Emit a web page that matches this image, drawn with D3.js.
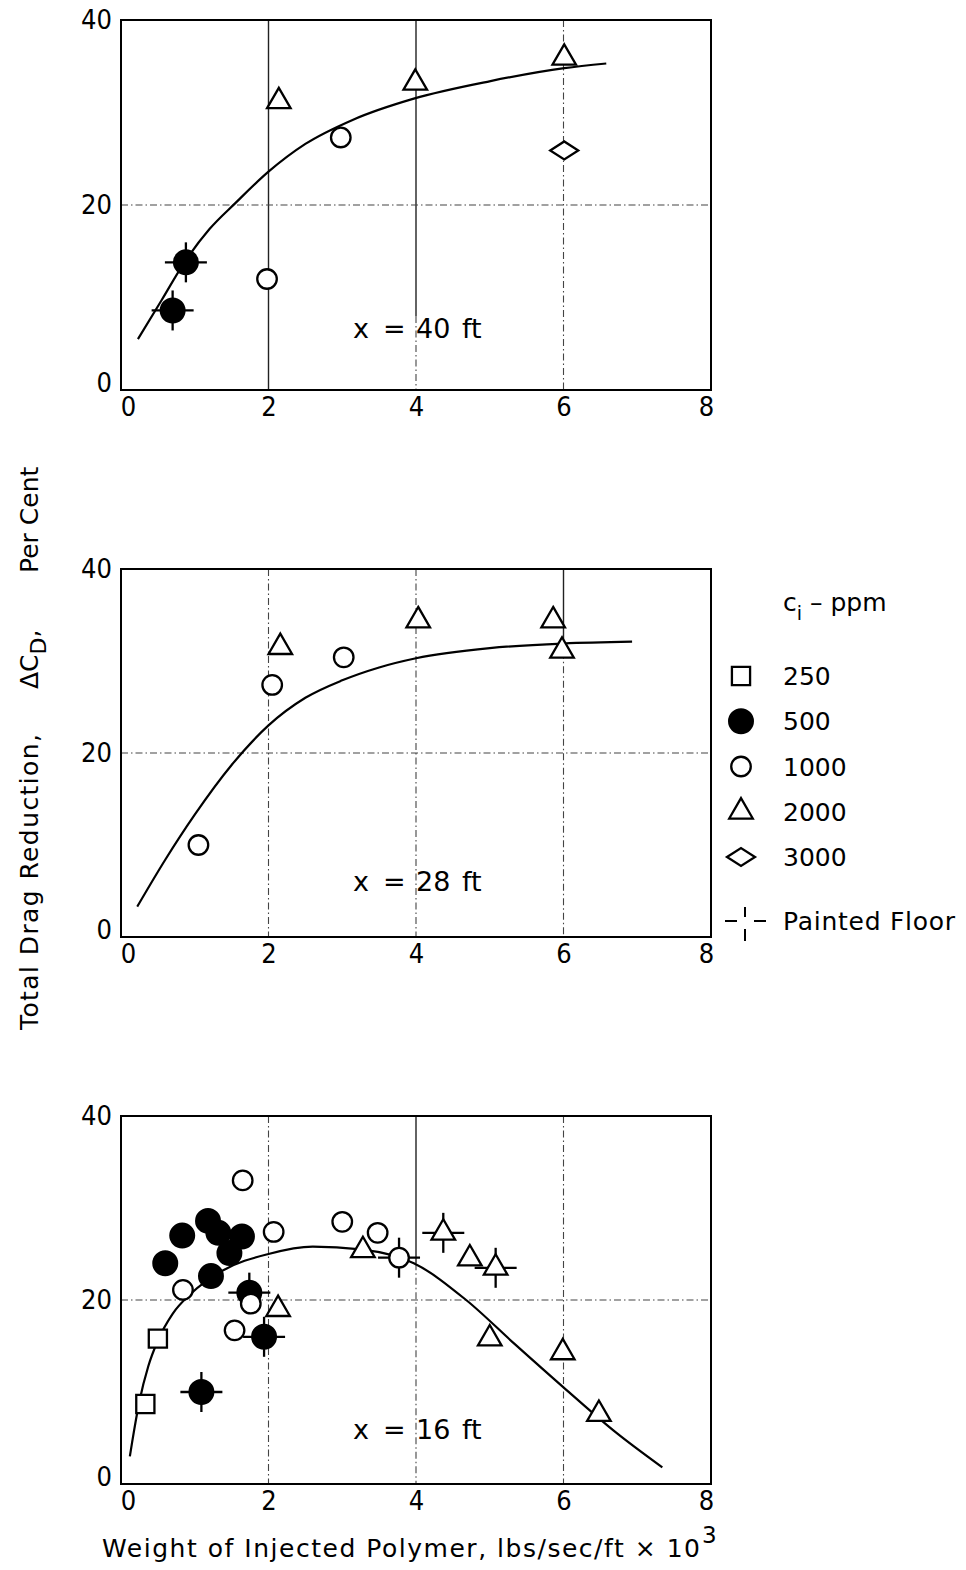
<!DOCTYPE html>
<html>
<head>
<meta charset="utf-8">
<script src="https://cdn.jsdelivr.net/npm/d3@7"></script>
<style>
  body { margin: 0; background: #fff; }
  text { font-family: "DejaVu Sans", sans-serif; fill: #000; }
  .tick text { font-family: "DejaVu Sans Condensed", "DejaVu Sans", sans-serif; }
</style>
</head>
<body>
<div id="container"></div>
<script>
let w = 966;
let h = 1570;

// tick values
let xTicks = [0, 2, 4, 6, 8];
let yTicks = [0, 20, 40];

// legend: concentration c_i in ppm
let ppmLevels = [250, 500, 1000, 2000, 3000];

// points: [weight, drag reduction %, ppm, painted floor]
let points40 = [
  [0.88, 13.8, 500, true], [0.70, 8.6, 500, true],
  [1.98, 12.0, 1000, false], [2.98, 27.3, 1000, false],
  [2.14, 31.2, 2000, false], [3.99, 33.2, 2000, false], [6.01, 35.9, 2000, false],
  [6.01, 25.9, 3000, false]
];
let curve40 = [[0.23, 5.5], [0.55, 9.7], [0.86, 13.8], [1.2, 17.4], [1.55, 20.2], [2.0, 23.6],
  [2.5, 26.6], [3.14, 29.2], [3.97, 31.5], [5.01, 33.4], [6.01, 34.8], [6.58, 35.3]];

let points28 = [
  [2.16, 31.5, 2000, false], [4.03, 34.4, 2000, false], [5.86, 34.4, 2000, false], [5.98, 31.1, 2000, false],
  [2.05, 27.4, 1000, false], [3.02, 30.4, 1000, false], [1.05, 10.0, 1000, false]
];
let curve28 = [[0.22, 3.3], [0.6, 8.4], [1.0, 13.3], [1.5, 18.7], [2.0, 23.0], [2.5, 26.0],
  [3.0, 27.9], [3.5, 29.3], [4.0, 30.3], [5.0, 31.4], [6.0, 31.9], [6.93, 32.1]];

let points16 = [
  [0.33, 8.7, 250, false], [0.50, 15.8, 250, false],
  [0.60, 24.0, 500, false], [0.83, 27.0, 500, false], [1.18, 28.6, 500, false], [1.32, 27.3, 500, false],
  [1.47, 25.1, 500, false], [1.64, 26.9, 500, false], [1.22, 22.6, 500, false],
  [1.74, 20.8, 500, true], [1.94, 16.0, 500, true], [1.09, 10.0, 500, true],
  [1.65, 33.0, 1000, false], [0.84, 21.1, 1000, false], [1.76, 19.6, 1000, false], [1.54, 16.7, 1000, false],
  [2.07, 27.4, 1000, false], [3.00, 28.5, 1000, false], [3.48, 27.3, 1000, false], [3.77, 24.6, 1000, true],
  [2.13, 19.0, 2000, false], [3.28, 25.4, 2000, false], [4.37, 27.3, 2000, true], [4.73, 24.5, 2000, false],
  [5.08, 23.5, 2000, true], [5.00, 15.8, 2000, false], [5.99, 14.3, 2000, false], [6.48, 7.6, 2000, false]
];
let curve16 = [[0.12, 3.0], [0.15, 4.5], [0.25, 9.0], [0.37, 12.8], [0.5, 15.6], [0.7, 18.5],
  [0.95, 20.7], [1.38, 23.2], [2.0, 25.0], [2.6, 25.8], [3.25, 25.5], [3.97, 24.0], [4.68, 20.0],
  [5.34, 15.2], [6.0, 10.5], [6.71, 5.6], [7.34, 1.8]];

let panelLabels = ["40", "28", "16"];

// vgrid: [x value, value above which the line is solid]
let panels = [
  {points: points40, curve: curve40, top: 20, bottom: 390, labelAt: 5.6,
   vgrid: [[2, 0], [4, 8], [6, 40]]},
  {points: points28, curve: curve28, top: 569, bottom: 937, labelAt: 5.0,
   vgrid: [[2, 40], [4, 40], [6, 31]]},
  {points: points16, curve: curve16, top: 1116, bottom: 1484, labelAt: 4.9,
   vgrid: [[2, 40], [4, 24], [6, 40]]}
];

let viz = d3.select("#container").append("svg")
  .attr("width", w)
  .attr("height", h)
  .style("background-color", "#fff");

let xScale = d3.scaleLinear().domain([0, 8]).range([121, 711]);

// marker shapes per concentration
let symbolFor = {
  250: {type: d3.symbolSquare, size: 330, fill: "#fff"},
  500: {type: d3.symbolCircle, size: 440, fill: "#000"},
  1000: {type: d3.symbolCircle, size: 300, fill: "#fff"},
  2000: {type: d3.symbolTriangle, size: 240, fill: "#fff"}
};

function drawMarker(g, ppm, cx, cy) {
  if (ppm == 3000) {
    g.append("path")
      .attr("d", "M" + (cx - 14) + "," + cy + "L" + cx + "," + (cy - 9) + "L" + (cx + 14) + "," + cy + "L" + cx + "," + (cy + 9) + "Z")
      .attr("fill", "#fff").attr("stroke", "#000").attr("stroke-width", 2.3);
    return;
  }
  let s = symbolFor[ppm];
  g.append("path")
    .attr("d", d3.symbol().type(s.type).size(s.size)())
    .attr("transform", "translate(" + cx + "," + cy + ")")
    .attr("fill", s.fill)
    .attr("stroke", "#000")
    .attr("stroke-width", 2.3);
}

let dash = "7,3,1.5,3";

panels.forEach(function(p, pi) {
  let yScale = d3.scaleLinear().domain([0, 40]).range([p.bottom, p.top]);
  let g = viz.append("g").classed("panel", true);

  // grid: solid part from the top down to v[1], dash-dot below
  p.vgrid.forEach(function(v) {
    let xx = xScale(v[0]);
    if (v[1] < 40) {
      g.append("line")
        .attr("x1", xx).attr("x2", xx)
        .attr("y1", p.top).attr("y2", yScale(v[1]))
        .attr("stroke", "#222").attr("stroke-width", 1.4);
    }
    if (v[1] > 0) {
      g.append("line")
        .attr("x1", xx).attr("x2", xx)
        .attr("y1", yScale(Math.min(v[1], 40))).attr("y2", p.bottom)
        .attr("stroke", "#444").attr("stroke-width", 1.1)
        .attr("stroke-dasharray", dash);
    }
  });
  g.append("line")
    .attr("x1", xScale(0)).attr("x2", xScale(8))
    .attr("y1", yScale(20)).attr("y2", yScale(20))
    .attr("stroke", "#444").attr("stroke-width", 1.1)
    .attr("stroke-dasharray", dash);

  // frame
  g.append("rect")
    .attr("x", xScale(0)).attr("y", p.top)
    .attr("width", xScale(8) - xScale(0)).attr("height", p.bottom - p.top)
    .attr("fill", "none").attr("stroke", "#000").attr("stroke-width", 2);

  // axes
  let xAxis = d3.axisBottom(xScale).tickValues(xTicks).tickSize(0).tickPadding(7).tickFormat(d3.format("d"));
  let xg = g.append("g").attr("transform", "translate(0," + p.bottom + ")").call(xAxis);
  xg.select(".domain").remove();
  xg.selectAll("text").style("font-size", "27px").attr("fill", "#000")
    .attr("dx", function(d) { return d == 0 ? 7 : (d == 8 ? -5 : 0); });

  let yAxis = d3.axisLeft(yScale).tickValues(yTicks).tickSize(0).tickPadding(9).tickFormat(d3.format("d"));
  let yg = g.append("g").attr("transform", "translate(" + xScale(0) + ",0)").call(yAxis);
  yg.select(".domain").remove();
  yg.selectAll("text").style("font-size", "27px").attr("fill", "#000")
    .attr("dy", function(d) { return d == 0 ? "0.05em" : "0.32em"; });

  // fitted curve
  let line = d3.line()
    .x(function(d) { return xScale(d[0]); })
    .y(function(d) { return yScale(d[1]); })
    .curve(d3.curveMonotoneX);
  g.append("path").datum(p.curve)
    .attr("d", line)
    .attr("fill", "none").attr("stroke", "#000").attr("stroke-width", 2.2);

  // painted floor crosses (drawn under markers)
  p.points.filter(function(d) { return d[3]; }).forEach(function(d) {
    let cx = xScale(d[0]), cy = yScale(d[1]);
    g.append("line").attr("x1", cx - 21).attr("x2", cx + 21).attr("y1", cy).attr("y2", cy)
      .attr("stroke", "#000").attr("stroke-width", 2.3);
    g.append("line").attr("x1", cx).attr("x2", cx).attr("y1", cy - 20).attr("y2", cy + 20)
      .attr("stroke", "#000").attr("stroke-width", 2.3);
  });

  p.points.forEach(function(d) {
    drawMarker(g, d[2], xScale(d[0]), yScale(d[1]));
  });

  // "x = NN ft" label
  let lab = g.append("text").attr("y", yScale(p.labelAt)).style("font-size", "27px");
  lab.append("tspan").attr("x", 353).text("x");
  lab.append("tspan").attr("x", 383).text("=");
  lab.append("tspan").attr("x", 416).text(panelLabels[pi]);
  lab.append("tspan").attr("x", 462).text("ft");
});

// y axis title, rotated; x in the rotated frame is minus screen y
let yTitle = viz.append("text")
  .attr("transform", "translate(38,0) rotate(-90)")
  .style("font-size", "25px");
yTitle.append("tspan").attr("x", -1030).attr("textLength", 296).attr("lengthAdjust", "spacing")
  .text("Total Drag Reduction,");
yTitle.append("tspan").attr("x", -689).text("\u0394C");
yTitle.append("tspan").attr("dy", 8).style("font-size", "22px").text("D");
yTitle.append("tspan").attr("dy", -8).text(",");
yTitle.append("tspan").attr("x", -573).text("Per Cent");

// x axis title
viz.append("text")
  .attr("x", 102).attr("y", 1557)
  .attr("textLength", 598).attr("lengthAdjust", "spacing")
  .style("font-size", "25px")
  .text("Weight of Injected Polymer, lbs/sec/ft \u00d7 10");
viz.append("text")
  .attr("x", 702).attr("y", 1543)
  .style("font-size", "23px")
  .text("3");

// legend
let leg = viz.append("g").classed("legend", true);
let legTitle = leg.append("text").attr("x", 783).attr("y", 611).style("font-size", "25px").style("white-space", "pre");
legTitle.append("tspan").text("c");
legTitle.append("tspan").attr("dy", 9).style("font-size", "19px").text("i");
legTitle.append("tspan").attr("dy", -9).text(" \u2013 ppm");

let legY = d3.scaleLinear().domain([0, 4]).range([676, 857]);
ppmLevels.forEach(function(c, i) {
  drawMarker(leg, c, 741, legY(i));
  leg.append("text").attr("x", 783).attr("y", legY(i)).attr("dy", "0.36em")
    .style("font-size", "25px").text(c);
});
let pfY = 921;
leg.append("line").attr("x1", 725).attr("x2", 737).attr("y1", pfY).attr("y2", pfY).attr("stroke", "#000").attr("stroke-width", 2);
leg.append("line").attr("x1", 754).attr("x2", 766).attr("y1", pfY).attr("y2", pfY).attr("stroke", "#000").attr("stroke-width", 2);
leg.append("line").attr("x1", 745).attr("x2", 745).attr("y1", pfY - 14).attr("y2", pfY - 4).attr("stroke", "#000").attr("stroke-width", 2);
leg.append("line").attr("x1", 745).attr("x2", 745).attr("y1", pfY + 8).attr("y2", pfY + 20).attr("stroke", "#000").attr("stroke-width", 2);
leg.append("text").attr("x", 783).attr("y", pfY).attr("dy", "0.36em").attr("textLength", 172).attr("lengthAdjust", "spacing")
  .style("font-size", "25px").text("Painted Floor");
</script>
</body>
</html>
